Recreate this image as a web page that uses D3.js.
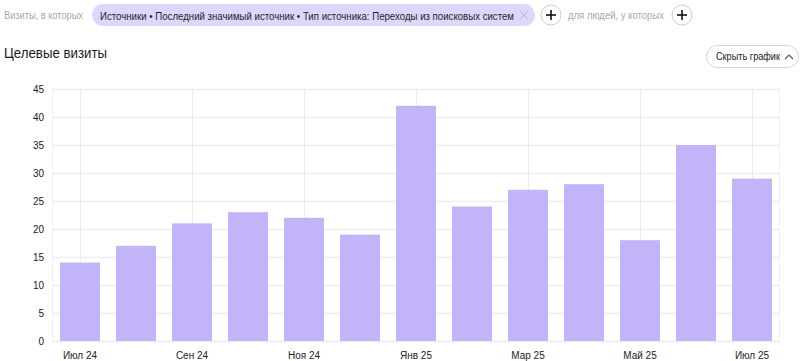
<!DOCTYPE html>
<html><head><meta charset="utf-8">
<script src="https://cdn.jsdelivr.net/npm/d3@7"></script>
<style>
html,body{margin:0;padding:0;background:#fff;}
svg{display:block;font-family:"Liberation Sans","Noto Sans",Roboto,sans-serif;}
</style></head>
<body><svg id="c" width="800" height="361"></svg>
<script>
const months = ["Июл 24","Авг 24","Сен 24","Окт 24","Ноя 24","Дек 24","Янв 25","Фев 25","Мар 25","Апр 25","Май 25","Июн 25","Июл 25"];
const visits = [14,17,21,23,22,19,42,24,27,28,18,35,29];
const tickLabels = ["Июл 24","Сен 24","Ноя 24","Янв 25","Мар 25","Май 25","Июл 25"];
const yTicks = [0,5,10,15,20,25,30,35,40,45];

const svg = d3.select("#c");
const x = d3.scaleBand().domain(months).range([52,780]).paddingInner(16/56).paddingOuter(8/56);
const y = d3.scaleLinear().domain([0,45]).range([341,89]);

function txt(xp, yp, size, color, s, len, weight){
  const t = svg.append("text").attr("x",xp).attr("y",yp).attr("font-size",size).attr("fill",color).text(s);
  if (len) t.attr("textLength",len).attr("lengthAdjust","spacingAndGlyphs");
  if (weight) t.attr("font-weight",weight);
  return t;
}

// top filter row
txt(4,19,11,"#a8a8a8","Визиты, в которых",79);
svg.append("rect").attr("x",92).attr("y",4).attr("width",443).attr("height",22).attr("rx",11).attr("fill","#dcd7fb");
txt(100,19.5,10.2,"#1f1f1f","Источники • Последний значимый источник • Тип источника: Переходы из поисковых систем",414);
const cx = svg.append("g").attr("stroke","#b8b8c8").attr("stroke-width",1);
cx.append("line").attr("x1",520).attr("y1",11).attr("x2",528).attr("y2",19);
cx.append("line").attr("x1",528).attr("y1",11).attr("x2",520).attr("y2",19);
function plus(cxp){
  svg.append("circle").attr("cx",cxp).attr("cy",15).attr("r",10).attr("fill","#fff").attr("stroke","#cfcfcf");
  svg.append("line").attr("x1",cxp-5).attr("x2",cxp+5).attr("y1",15).attr("y2",15).attr("stroke","#111").attr("stroke-width",1.6);
  svg.append("line").attr("x1",cxp).attr("x2",cxp).attr("y1",10).attr("y2",20).attr("stroke","#111").attr("stroke-width",1.6);
}
plus(551);
txt(568,19,10.5,"#a8a8a8","для людей, у которых",96);
plus(682);

// title
txt(4,58,14.5,"#1a1a1a","Целевые визиты",103,500);

// button
svg.append("rect").attr("x",706.5).attr("y",45.5).attr("width",92).attr("height",22).attr("rx",11).attr("fill","#fff").attr("stroke","#d6d6d6");
txt(716,60,10.5,"#1a1a1a","Скрыть график",64);
svg.append("path").attr("d","M785,59 L789,55 L793,59").attr("fill","none").attr("stroke","#555").attr("stroke-width",1.1);

// plot frame & grid
const grid = svg.append("g");
grid.append("rect").attr("x",52.5).attr("y",89.5).attr("width",727).attr("height",252).attr("fill","none").attr("stroke","#efefef");
grid.selectAll(".h").data(yTicks).join("line")
  .attr("x1",52).attr("x2",780).attr("y1",d=>Math.round(y(d))+0.5).attr("y2",d=>Math.round(y(d))+0.5)
  .attr("stroke","#eeeeee").attr("stroke-width",1.5);
grid.selectAll(".v").data(tickLabels).join("line")
  .attr("x1",d=>Math.round(x(d)+x.bandwidth()/2)+0.5).attr("x2",d=>Math.round(x(d)+x.bandwidth()/2)+0.5)
  .attr("y1",89).attr("y2",341).attr("stroke","#ececec");

// bars
svg.append("g").selectAll("rect").data(visits).join("rect")
  .attr("x",(d,i)=>x(months[i])).attr("width",x.bandwidth())
  .attr("y",d=>y(d)).attr("height",d=>y(0)-y(d))
  .attr("fill","#c3b3f8");

// y axis
const yAxis = svg.append("g").attr("transform","translate(44,0)")
  .call(d3.axisLeft(y).tickValues(yTicks).tickSize(0).tickPadding(0));
yAxis.select(".domain").remove();
yAxis.selectAll("text").attr("font-size",10).attr("fill","#222").attr("font-family","Liberation Sans, sans-serif").attr("dy","0.35em");

// x axis
const xAxis = svg.append("g").attr("transform","translate(0,341)")
  .call(d3.axisBottom(x).tickValues(tickLabels).tickSize(0).tickPadding(11));
xAxis.select(".domain").remove();
xAxis.selectAll("text").attr("font-size",10).attr("fill","#222").attr("font-family","Liberation Sans, sans-serif");
</script></body></html>
